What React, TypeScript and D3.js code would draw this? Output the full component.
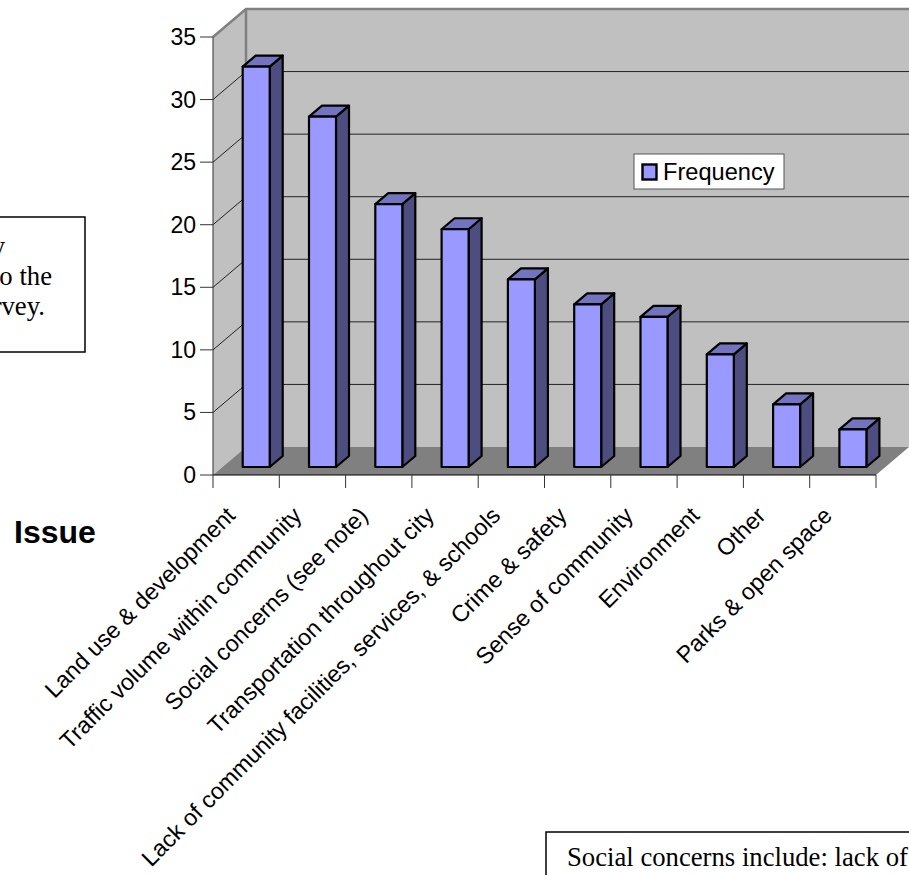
import React from "react";
import * as d3 from "d3";

const categories = [
  "Land use & development",
  "Traffic volume within community",
  "Social concerns (see note)",
  "Transportation throughout city",
  "Lack of community facilities, services, & schools",
  "Crime & safety",
  "Sense of community",
  "Environment",
  "Other",
  "Parks & open space",
];
const frequency = [32, 28, 21, 19, 15, 13, 12, 9, 5, 3];
const yTicks = [0, 5, 10, 15, 20, 25, 30, 35];
const seriesName = "Frequency";
const axisTitle = "Issue";
const sideNoteLines = ["Issues mentioned by", "respondents to the", "the survey."];
const footNote = "Social concerns include: lack of";

const W = 909;
const H = 875;
const sans = "'Liberation Sans', Arial, sans-serif";
const serif = "'Liberation Serif', 'Times New Roman', serif";

// Oblique projection of the chart box: depth shifts marks right and up.
const plot = { left: 213, right: 876, bottom: 475, top: 37 };
const depth = { dx: 33, dy: 28 };
const barDepth = { dx: 13, dy: 11 };
const barLift = 8;
const barOffset = 29.7;
const barWidth = 27;

const x = d3
  .scaleBand<string>()
  .domain(categories)
  .range([plot.left, plot.right]);
const y = d3.scaleLinear().domain([0, 35]).range([plot.bottom, plot.top]);

const poly = (pts: [number, number][]) => d3.line()(pts) + "Z";

export default function App() {
  const wallTop = y(35) - depth.dy;
  const floorBack = plot.bottom - depth.dy;
  const wallRight = plot.right + depth.dx;
  return (
    <svg
      width={W}
      height={H}
      viewBox={`0 0 ${W} ${H}`}
      style={{ position: "absolute", left: 0, top: 0, display: "block", background: "#fff" }}
    >
      {/* walls and floor */}
      <path
        d={poly([
          [plot.left, plot.bottom],
          [plot.left, plot.top],
          [plot.left + depth.dx, wallTop],
          [plot.left + depth.dx, floorBack],
        ])}
        fill="#c0c0c0"
      />
      <rect x={plot.left + depth.dx} y={wallTop} width={wallRight - plot.left - depth.dx} height={floorBack - wallTop} fill="#c0c0c0" />
      <path
        d={poly([
          [plot.left, plot.bottom],
          [plot.right, plot.bottom],
          [wallRight, floorBack],
          [plot.left + depth.dx, floorBack],
        ])}
        fill="#808080"
      />

      {/* gridlines across the side wall and back wall */}
      {yTicks.filter((t) => t > 0 && t < 35).map((t) => (
        <path
          key={t}
          d={d3.line()([
            [plot.left, y(t)],
            [plot.left + depth.dx, y(t) - depth.dy],
            [wallRight, y(t) - depth.dy],
          ]) as string}
          fill="none"
          stroke="#222"
          strokeWidth={1}
        />
      ))}

      {/* wall outline */}
      <path
        d={d3.line()([
          [plot.left, plot.top],
          [plot.left + depth.dx, wallTop],
          [wallRight, wallTop],
        ]) as string}
        fill="none"
        stroke="#808080"
        strokeWidth={2.5}
      />
      <line
        x1={plot.left + depth.dx}
        x2={plot.left + depth.dx}
        y1={wallTop}
        y2={floorBack}
        stroke="#808080"
        strokeWidth={2.5}
      />

      {/* bars */}
      {categories.map((c, i) => {
        const x0 = (x(c) as number) + barOffset;
        const x1 = x0 + barWidth;
        const yb = plot.bottom - barLift;
        const yt = y(frequency[i]) - barLift;
        return (
          <g key={c} stroke="#000" strokeWidth={2.2} strokeLinejoin="round">
            <path
              d={poly([
                [x1, yb],
                [x1, yt],
                [x1 + barDepth.dx, yt - barDepth.dy],
                [x1 + barDepth.dx, yb - barDepth.dy],
              ])}
              fill="#4d4d80"
            />
            <path
              d={poly([
                [x0, yt],
                [x1, yt],
                [x1 + barDepth.dx, yt - barDepth.dy],
                [x0 + barDepth.dx, yt - barDepth.dy],
              ])}
              fill="#7373bf"
            />
            <rect x={x0} y={yt} width={barWidth} height={yb - yt} fill="#9999ff" />
          </g>
        );
      })}

      {/* value axis */}
      <line x1={plot.left} x2={plot.left} y1={plot.top} y2={plot.bottom} stroke="#333" strokeWidth={1} />
      {yTicks.map((t) => (
        <g key={t}>
          <line x1={plot.left - 13} x2={plot.left} y1={y(t)} y2={y(t)} stroke="#333" strokeWidth={1} />
          <text x={plot.left - 17} y={y(t) + 8} textAnchor="end" fontFamily={sans} fontSize={23} fill="#000">
            {t}
          </text>
        </g>
      ))}

      {/* category axis */}
      <line x1={plot.left} x2={plot.right} y1={plot.bottom} y2={plot.bottom} stroke="#000" strokeWidth={1} />
      {[...categories.map((c) => x(c) as number), plot.right].map((px, i) => (
        <line key={i} x1={px} x2={px} y1={plot.bottom} y2={plot.bottom + 13} stroke="#333" strokeWidth={1} />
      ))}
      {categories.map((c) => {
        const px = (x(c) as number) + x.bandwidth() / 2;
        return (
          <text
            key={c}
            transform={`translate(${px - 9.5},${plot.bottom + 42}) rotate(-45)`}
            textAnchor="end"
            fontFamily={sans}
            fontSize={23.3}
            fill="#000"
          >
            {c}
          </text>
        );
      })}
      <text x={14} y={543} fontFamily={sans} fontSize={32} fontWeight="bold" fill="#000">
        {axisTitle}
      </text>

      {/* legend */}
      <rect x={634} y={154} width={150} height={35} fill="#fff" stroke="#555" strokeWidth={1} />
      <rect x={642.5} y={164.5} width={14} height={15} fill="#9999ff" stroke="#000" strokeWidth={2.4} />
      <text x={663} y={180} fontFamily={sans} fontSize={23.6} fill="#000">
        {seriesName}
      </text>

      {/* side note, running off the left edge */}
      <rect x={-20} y={217} width={105} height={135} fill="#fff" stroke="#000" strokeWidth={1.5} />
      {sideNoteLines.map((line, i) => (
        <text
          key={line}
          x={[5, 52, 45][i]}
          y={255 + i * 30}
          textAnchor="end"
          fontFamily={serif}
          fontSize={26.7}
          fill="#000"
        >
          {line}
        </text>
      ))}

      {/* footnote box, running off the page */}
      <rect x={546} y={832} width={400} height={80} fill="#fff" stroke="#000" strokeWidth={1.5} />
      <text x={567} y={866} fontFamily={serif} fontSize={26.7} fill="#000">
        {footNote}
      </text>
    </svg>
  );
}
